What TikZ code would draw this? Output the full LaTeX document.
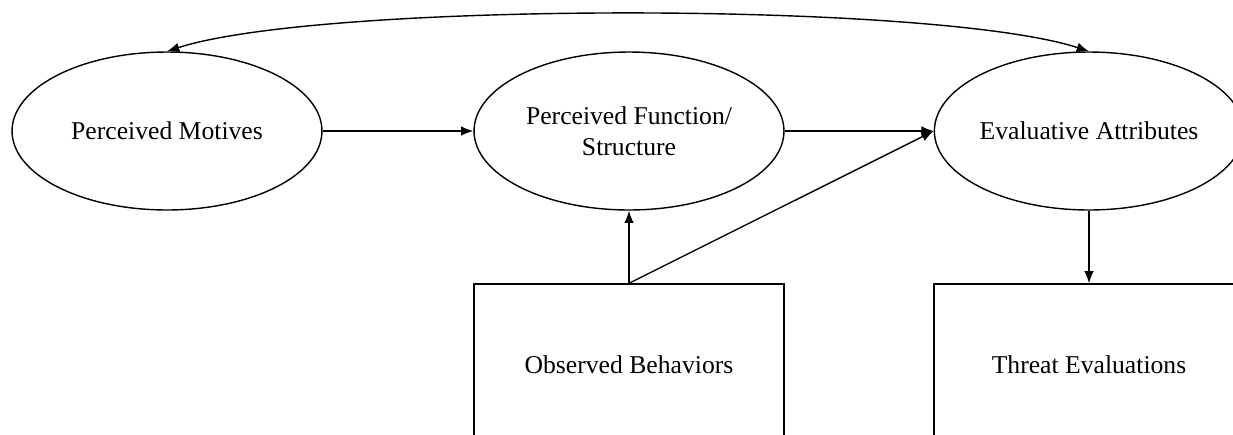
\documentclass[tikz,border=0pt]{standalone}
\usepackage{fontspec}
\setmainfont{Liberation Serif}
\usetikzlibrary{shapes.geometric,arrows.meta}
\begin{document}
\begin{tikzpicture}
[x=0.02cm,y=-0.02cm,>={Latex[length=7pt,width=5.5pt]},
  ellipsedecorate/.style={shape=ellipse,draw,thick,inner sep=0pt,
    minimum width=6.2cm,minimum height=3.16cm,align=center,font=\fontsize{14.6}{17.5}\selectfont},%
  boxdecorate/.style={shape=rectangle,draw,thick,inner sep=0pt,
    minimum width=6.2cm,minimum height=3.24cm,font=\fontsize{14.6}{17.5}\selectfont},%
  arrowdecorate/.style={->,thick}]
\useasboundingbox (0,0) rectangle (1233,434);
\clip (0,0) rectangle (1233,434);
% nodes or vertices
\node (motives) at (167,131) [ellipsedecorate] {Perceived Motives};
\node (function) at (629,131) [ellipsedecorate] {Perceived Function/\\Structure};
\node (evaluative) at (1089,131) [ellipsedecorate,minimum width=6cm] {Evaluative Attributes};
\node (observed) at (629,365) [boxdecorate] {Observed Behaviors};
\node (threat) at (1089,365) [boxdecorate] {Threat Evaluations};
% edges or lines
\path
(motives) edge[arrowdecorate] (function)
(function) edge[arrowdecorate] (evaluative)
(observed.north) edge[arrowdecorate] (function.south)
(observed.north) edge[arrowdecorate] (evaluative.west)
(evaluative.south) edge[arrowdecorate] (threat.north)
(motives.north) edge[arrowdecorate,<->,out=18,in=162,looseness=0.45] (evaluative.north);
\end{tikzpicture}
\end{document}
